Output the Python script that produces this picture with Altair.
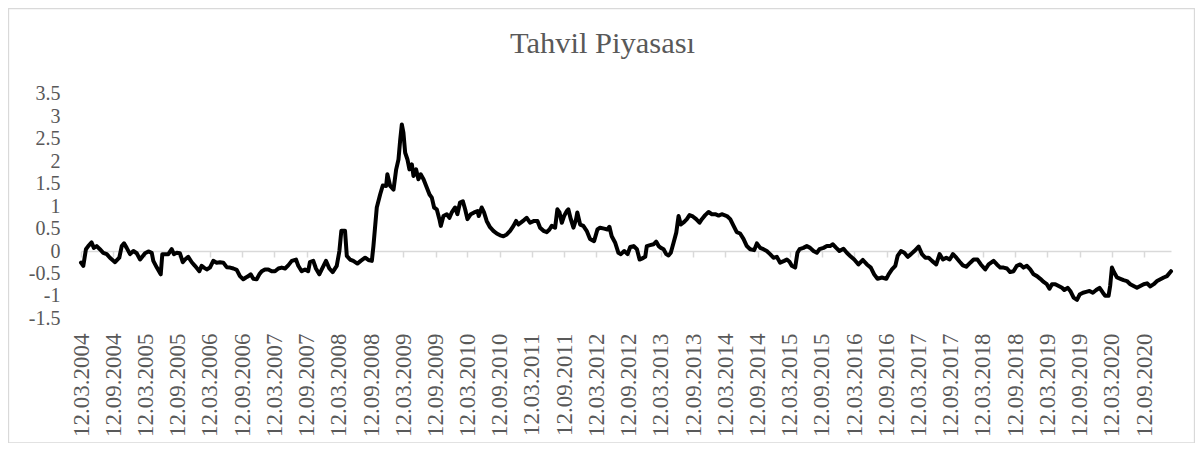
import altair as alt
import pandas as pd

# ---- data (decimal years, values) ----
years_a = [2004.194, 2004.23, 2004.272, 2004.307, 2004.36, 2004.396, 2004.438, 2004.489, 2004.54, 2004.593,
           2004.644, 2004.722, 2004.789, 2004.826, 2004.862, 2004.904, 2004.955, 2005.006, 2005.059, 2005.11,
           2005.188, 2005.239, 2005.292, 2005.317, 2005.37, 2005.432, 2005.457, 2005.498, 2005.55, 2005.602,
           2005.638, 2005.68, 2005.731, 2005.773, 2005.809, 2005.86, 2005.913, 2005.964, 2006.031, 2006.068,
           2006.104, 2006.146, 2006.197, 2006.248, 2006.301, 2006.352, 2006.404, 2006.456, 2006.507, 2006.559,
           2006.612, 2006.663, 2006.714, 2006.756, 2006.792, 2006.829, 2006.87, 2006.922, 2006.963, 2007.0,
           2007.051, 2007.102, 2007.155, 2007.206, 2007.258, 2007.31, 2007.362, 2007.413, 2007.466, 2007.532,
           2007.568, 2007.621, 2007.672, 2007.723, 2007.75, 2007.801, 2007.843, 2007.894, 2007.932, 2007.998,
           2008.05, 2008.102, 2008.165, 2008.205, 2008.236, 2008.293, 2008.32, 2008.371, 2008.422, 2008.484,
           2008.537, 2008.604, 2008.655, 2008.708, 2008.733, 2008.785, 2008.837, 2008.879, 2008.93, 2008.95]
values_a = [-0.26, -0.33, 0.04, 0.11, 0.19, 0.07, 0.11, 0.04, -0.04, -0.07,
            -0.15, -0.25, -0.15, 0.11, 0.17, 0.07, -0.07, 0.0, -0.05, -0.19,
            -0.05, -0.01, -0.04, -0.22, -0.37, -0.52, -0.07, -0.07, -0.07, 0.04,
            -0.07, -0.04, -0.05, -0.25, -0.19, -0.13, -0.25, -0.33, -0.45, -0.33,
            -0.37, -0.41, -0.37, -0.22, -0.26, -0.25, -0.26, -0.36, -0.37, -0.39,
            -0.42, -0.56, -0.63, -0.59, -0.56, -0.52, -0.62, -0.63, -0.52, -0.45,
            -0.41, -0.41, -0.45, -0.45, -0.39, -0.37, -0.39, -0.32, -0.22, -0.19,
            -0.33, -0.45, -0.41, -0.45, -0.25, -0.22, -0.39, -0.52, -0.41, -0.22,
            -0.39, -0.47, -0.33, 0.0, 0.45, 0.45, -0.11, -0.19, -0.22, -0.28,
            -0.22, -0.15, -0.2, -0.22, 0.11, 0.97, 1.26, 1.46, 1.45, 1.71]

years_b = [2008.992, 2009.044, 2009.085, 2009.122, 2009.148, 2009.173, 2009.199, 2009.225, 2009.261, 2009.292,
           2009.329, 2009.355, 2009.396, 2009.432, 2009.468, 2009.51, 2009.562, 2009.603, 2009.639, 2009.676,
           2009.717, 2009.758, 2009.779, 2009.82, 2009.872, 2009.914, 2009.95, 2010.002, 2010.038, 2010.079,
           2010.121, 2010.157, 2010.193, 2010.245, 2010.297, 2010.348, 2010.369, 2010.416, 2010.452, 2010.493,
           2010.545, 2010.597, 2010.649, 2010.7, 2010.752, 2010.804, 2010.856, 2010.907, 2010.949, 2010.985,
           2011.037, 2011.073, 2011.114, 2011.166, 2011.228, 2011.28, 2011.321, 2011.373, 2011.425, 2011.466,
           2011.503, 2011.554, 2011.591, 2011.622, 2011.658, 2011.694, 2011.736, 2011.761, 2011.798, 2011.839,
           2011.88, 2011.901, 2011.943, 2011.994, 2012.046, 2012.098, 2012.16, 2012.212, 2012.253, 2012.315,
           2012.367, 2012.398, 2012.434, 2012.486, 2012.538, 2012.574, 2012.626, 2012.678, 2012.719, 2012.771,
           2012.823, 2012.864, 2012.9, 2012.952, 2012.978, 2013.03, 2013.081, 2013.123, 2013.159, 2013.195,
           2013.237, 2013.278, 2013.314, 2013.35, 2013.392, 2013.433, 2013.47, 2013.506, 2013.557, 2013.599,
           2013.64, 2013.692, 2013.744, 2013.796, 2013.832, 2013.884, 2013.935, 2013.987, 2014.039, 2014.091,
           2014.142, 2014.22, 2014.272, 2014.324, 2014.375, 2014.427, 2014.479, 2014.531, 2014.582, 2014.644,
           2014.686, 2014.738, 2014.789, 2014.841, 2014.893, 2014.945, 2014.996]
values_b = [1.45, 1.37, 1.82, 2.04, 2.49, 2.82, 2.64, 2.19, 2.04, 1.82,
            1.93, 1.67, 1.82, 1.60, 1.71, 1.60, 1.41, 1.26, 1.19, 0.97,
            0.93, 0.71, 0.56, 0.78, 0.82, 0.74, 0.86, 0.97, 0.82, 1.08,
            1.11, 0.93, 0.71, 0.82, 0.86, 0.89, 0.78, 0.97, 0.86, 0.67,
            0.53, 0.45, 0.39, 0.35, 0.33, 0.37, 0.45, 0.56, 0.67, 0.59,
            0.65, 0.69, 0.74, 0.63, 0.67, 0.67, 0.52, 0.45, 0.42, 0.48,
            0.56, 0.52, 0.93, 0.86, 0.63, 0.78, 0.89, 0.93, 0.71, 0.52,
            0.71, 0.86, 0.59, 0.56, 0.45, 0.27, 0.22, 0.48, 0.52, 0.50,
            0.48, 0.54, 0.33, 0.19, -0.04, -0.07, 0.0, -0.07, 0.09, 0.11,
            0.04, -0.19, -0.17, -0.13, 0.11, 0.13, 0.15, 0.21, 0.11, 0.07,
            0.04, -0.07, -0.10, -0.04, 0.19, 0.41, 0.78, 0.59, 0.65, 0.71,
            0.80, 0.77, 0.71, 0.63, 0.71, 0.80, 0.87, 0.82, 0.82, 0.79,
            0.82, 0.78, 0.71, 0.56, 0.42, 0.39, 0.27, 0.11, 0.04, 0.02,
            0.17, 0.07, 0.04, 0.0, -0.07, -0.15, -0.13]

years_c = [2015.048, 2015.11, 2015.152, 2015.193, 2015.229, 2015.281, 2015.317, 2015.348, 2015.41, 2015.462,
           2015.514, 2015.566, 2015.617, 2015.659, 2015.721, 2015.773, 2015.824, 2015.866, 2015.918, 2015.969,
           2016.031, 2016.083, 2016.135, 2016.197, 2016.264, 2016.332, 2016.394, 2016.456, 2016.508, 2016.559,
           2016.627, 2016.694, 2016.73, 2016.782, 2016.834, 2016.87, 2016.922, 2016.973, 2017.025, 2017.077,
           2017.129, 2017.196, 2017.248, 2017.3, 2017.351, 2017.403, 2017.47, 2017.522, 2017.574, 2017.626,
           2017.677, 2017.729, 2017.781, 2017.833, 2017.884, 2017.936, 2017.998, 2018.05, 2018.112, 2018.164,
           2018.231, 2018.283, 2018.361, 2018.412, 2018.464, 2018.516, 2018.568, 2018.619, 2018.671, 2018.723,
           2018.775, 2018.826, 2018.878, 2018.93, 2018.982, 2019.034, 2019.085, 2019.137, 2019.189, 2019.23,
           2019.266, 2019.318, 2019.37, 2019.422, 2019.458, 2019.51, 2019.551, 2019.603, 2019.655, 2019.696,
           2019.748, 2019.8, 2019.851, 2019.903, 2019.955, 2020.007, 2020.058, 2020.095, 2020.146, 2020.172,
           2020.198, 2020.234, 2020.276, 2020.328, 2020.379, 2020.431, 2020.483, 2020.535, 2020.586, 2020.638,
           2020.69, 2020.742, 2020.793, 2020.845, 2020.897, 2020.949, 2021.0, 2021.052, 2021.114]
values_c = [-0.26, -0.22, -0.19, -0.24, -0.33, -0.37, -0.04, 0.04, 0.07, 0.11,
            0.07, 0.0, -0.04, 0.04, 0.07, 0.11, 0.11, 0.15, 0.07, 0.0,
            0.05, -0.04, -0.11, -0.19, -0.30, -0.20, -0.30, -0.37, -0.52, -0.62,
            -0.59, -0.62, -0.52, -0.41, -0.33, -0.11, 0.0, -0.04, -0.13, -0.07,
            0.0, 0.10, -0.07, -0.15, -0.15, -0.22, -0.30, -0.07, -0.19, -0.15,
            -0.19, -0.07, -0.15, -0.24, -0.32, -0.35, -0.26, -0.19, -0.19, -0.30,
            -0.41, -0.30, -0.22, -0.30, -0.37, -0.37, -0.39, -0.47, -0.45, -0.33,
            -0.30, -0.37, -0.33, -0.41, -0.52, -0.56, -0.62, -0.69, -0.74, -0.84,
            -0.74, -0.74, -0.78, -0.82, -0.87, -0.82, -0.89, -1.04, -1.09, -0.97,
            -0.93, -0.91, -0.89, -0.93, -0.87, -0.82, -0.93, -1.00, -1.00, -0.78,
            -0.37, -0.48, -0.59, -0.62, -0.65, -0.67, -0.74, -0.78, -0.82, -0.78,
            -0.74, -0.72, -0.79, -0.74, -0.67, -0.63, -0.59, -0.56, -0.45]

y_ticks = [-1.5, -1, -0.5, 0, 0.5, 1, 1.5, 2, 2.5, 3, 3.5]
tick_years = list(range(2004, 2021))
tick_months = [3, 9]
title_text = "Tahvil Piyasası"

assert len(years_a) == len(values_a)
assert len(years_b) == len(values_b)
assert len(years_c) == len(values_c)


def dec_to_date(y):
    yr = int(y)
    ndays = 366 if (yr % 4 == 0 and (yr % 100 != 0 or yr % 400 == 0)) else 365
    return (pd.Timestamp(yr, 1, 1) + pd.Timedelta(days=(y - yr) * ndays)).normalize()


years = years_a + years_b + years_c
values = values_a + values_b + values_c
df = pd.DataFrame({"date": [dec_to_date(y) for y in years], "value": values})

tick_dates = [alt.DateTime(year=y, month=m, date=12) for y in tick_years for m in tick_months]

FONT = "Liberation Serif"
GRAY = "#595959"
LIGHT = "#d9d9d9"

W, H = 1090, 224.3
PAD = {"left": 73, "top": 86, "right": 24, "bottom": 125}

line = alt.Chart(df).mark_line(
    color="black", strokeWidth=4, strokeJoin="round", strokeCap="round"
).encode(
    x=alt.X(
        "date:T",
        scale=alt.Scale(nice=False),
        axis=alt.Axis(
            values=tick_dates, format="%d.%m.%Y", labelAngle=-90, offset=-67.3,
            tickSize=6, labelPadding=76, domainColor=LIGHT, tickColor=LIGHT,
            domainWidth=1.5, tickWidth=1.5, grid=False, title=None,
            labelFont=FONT, labelFontSize=23, labelColor=GRAY,
            labelOverlap=False, labelFlush=False, labelBound=False,
        ),
    ),
    y=alt.Y(
        "value:Q",
        scale=alt.Scale(domain=[-1.5, 3.5], nice=False, zero=False),
        axis=alt.Axis(
            values=y_ticks, labelExpr="'' + datum.value", ticks=False, domain=False,
            grid=False, labelPadding=21, title=None, labelFont=FONT,
            labelFontSize=20, labelColor=GRAY, labelOverlap=False, labelFlush=False,
        ),
    ),
)

border = alt.Chart(alt.Data(values=[{}])).mark_rect(
    fillOpacity=0, stroke=LIGHT, strokeWidth=1.3
).encode(
    x=alt.value(-PAD["left"] + 0.5), x2=alt.value(W + PAD["right"] - 0.5),
    y=alt.value(-PAD["top"] + 0.5), y2=alt.value(H + PAD["bottom"] - 0.5),
)

title = alt.Chart(alt.Data(values=[{"t": title_text}])).mark_text(
    font=FONT, fontSize=30.5, color=GRAY, align="center", baseline="alphabetic"
).encode(
    text="t:N", x=alt.value(521.5), y=alt.value(-41),
)

chart = alt.layer(border, line, title).properties(
    width=W, height=H, padding=PAD, autosize="none"
).configure_view(stroke=None)

chart.save("out.html", embed_options={"renderer": "svg", "actions": False})
